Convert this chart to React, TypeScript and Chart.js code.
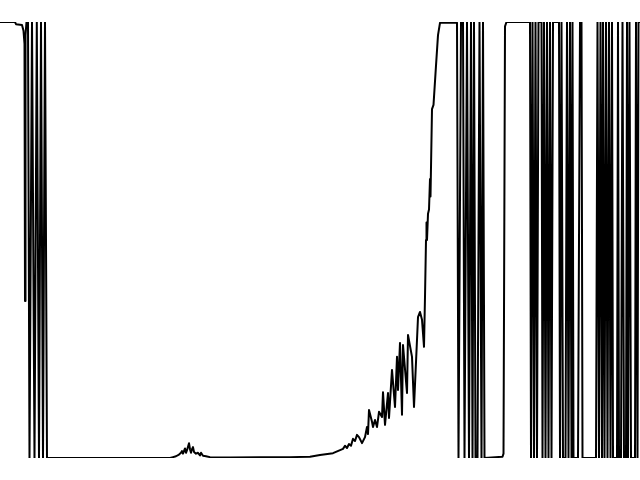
import React, { useEffect, useRef } from "react";
import { Chart, registerables } from "chart.js";

Chart.register(...registerables);

// Sample positions (x) and signal values (y, 0..1)
const leftX = [0, 15, 16, 22, 23.5, 24.5, 25, 25.5, 26.5, 28, 29.5, 32, 34.5, 36.8, 39, 41, 43, 45, 47, 48.5];
const leftY = [1, 1, 0.995, 0.993, 0.98, 0.95, 0.36, 0.97, 1, 1, 0, 1, 0, 1, 0, 1, 0, 1, 0, 0];

const bumpX = [170, 173, 176, 179, 181, 182, 183, 185, 186, 187, 189, 190, 191, 192, 193, 194, 196, 198, 200, 201, 203, 206, 210, 215, 230, 260, 290, 310];
const bumpY = [0, 0.002, 0.004, 0.008, 0.012, 0.016, 0.01, 0.022, 0.012, 0.018, 0.034, 0.02, 0.012, 0.02, 0.025, 0.014, 0.01, 0.012, 0.006, 0.012, 0.005, 0.004, 0.002, 0.001, 0.001, 0.002, 0.002, 0.003];

const riseX = [320, 333, 343, 345, 347, 349, 351, 353, 355, 357, 359, 362, 365, 367, 368, 369, 372, 373, 375, 377, 379, 382, 383, 385, 388, 389, 392, 395, 397, 398, 400, 402, 403, 407, 408, 412, 414, 418, 420, 422, 424, 425, 426, 426.5, 427, 428, 429, 430, 430.5, 432, 433.5, 436, 438, 440];
const riseY = [0.007, 0.011, 0.021, 0.028, 0.023, 0.032, 0.028, 0.044, 0.039, 0.053, 0.048, 0.034, 0.048, 0.071, 0.055, 0.11, 0.083, 0.071, 0.087, 0.071, 0.106, 0.094, 0.151, 0.076, 0.149, 0.092, 0.202, 0.117, 0.232, 0.156, 0.264, 0.099, 0.259, 0.149, 0.282, 0.232, 0.117, 0.323, 0.335, 0.317, 0.255, 0.37, 0.5, 0.54, 0.5, 0.56, 0.57, 0.64, 0.6, 0.8, 0.81, 0.9, 0.97, 0.998];

const rightX = [457, 458.5, 461, 463, 464.5, 467, 469, 471, 472.5, 474, 475.5, 477.5, 479.5, 481.5, 483, 484.5, 502.5, 503.5, 505, 506.5, 530, 531, 532.5, 534, 535.5, 537, 538.5, 541.5, 542.5, 544, 545.5, 547, 548.5, 550, 551.5, 553, 559, 560, 561.5, 563, 565.5, 567, 568.5, 570, 571.5, 572.5, 573.5, 578, 580, 581.5, 582.5, 596, 597.5, 599, 600.5, 602, 603, 604.5, 606, 607.5, 609, 610.5, 612, 613, 617, 618, 619, 621, 622.5, 624, 626, 627, 628, 629.5, 631, 635, 636, 637.5, 638.5, 640];
const rightY = [0.998, 0, 1, 1, 0, 1, 0, 1, 0, 1, 0, 0, 1, 0, 1, 0, 0.003, 0.01, 0.99, 1, 1, 0, 1, 0, 1, 0, 1, 1, 0, 1, 0, 1, 0, 1, 0, 1, 1, 0, 1, 0, 0, 1, 0, 1, 0, 1, 0, 0, 1, 1, 0, 0, 1, 0, 1, 0, 1, 0, 1, 0, 1, 0, 1, 0, 0, 1, 0, 0, 1, 0, 0, 1, 0, 1, 0, 0, 1, 0, 1, 1];

const sampleX = [...leftX, ...bumpX, ...riseX, ...rightX];
const signal = [...leftY, ...bumpY, ...riseY, ...rightY];

export default function App() {
  const ref = useRef<HTMLCanvasElement | null>(null);
  useEffect(() => {
    if (!ref.current) return;
    const chart = new Chart(ref.current, {
      type: "line",
      data: {
        datasets: [
          {
            data: sampleX.map((x, i) => ({ x, y: signal[i] })),
            borderColor: "#000000",
            borderWidth: 2,
            pointRadius: 0,
            tension: 0,
            fill: false,
            borderJoinStyle: "round",
          },
        ],
      },
      options: {
        responsive: false,
        animation: false,
        layout: { padding: { top: 22, bottom: 22, left: 0, right: 0 } },
        plugins: { legend: { display: false }, tooltip: { enabled: false } },
        scales: {
          x: { type: "linear", min: 0, max: 640, display: false },
          y: { min: 0, max: 1, display: false },
        },
      },
    });
    return () => chart.destroy();
  }, []);
  return (
    <div style={{ position: "absolute", left: 0, top: 0, width: 640, height: 480, background: "#fff" }}>
      <canvas ref={ref} width={640} height={480} style={{ display: "block" }} />
    </div>
  );
}
